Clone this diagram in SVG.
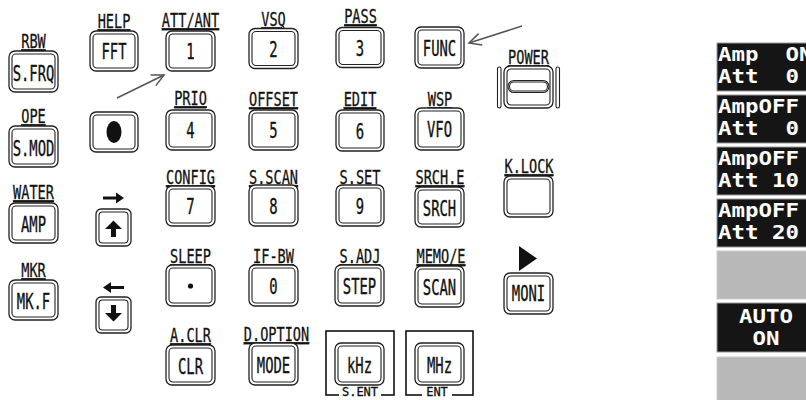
<svg xmlns="http://www.w3.org/2000/svg" width="806" height="400" viewBox="0 0 806 400">
<style>
.bo{fill:#fff;stroke:#222;stroke-width:1.3}
.bi{fill:none;stroke:#222;stroke-width:1.1}
.k{font-family:"DejaVu Sans Mono",monospace;font-size:21px;text-anchor:middle;fill:#111;stroke:#111;stroke-width:0.35}
.l{font-family:"DejaVu Sans Mono",monospace;font-size:20px;text-anchor:middle;fill:#111;stroke:#111;stroke-width:0.3;text-decoration:underline}
.e{font-family:"DejaVu Sans Mono",monospace;font-size:12px;text-anchor:middle;fill:#111;stroke:#111;stroke-width:0.3}
.fr{fill:none;stroke:#111;stroke-width:1.6}
.sym{fill:#111}
.conn{stroke:#555;stroke-width:1.5;fill:none}
.pd{fill:#151515;stroke:#999;stroke-width:1}
.pg{fill:#b8b8b8;stroke:#ccc;stroke-width:1}
.pt{font-family:"DejaVu Sans Mono",monospace;font-size:19px;font-weight:bold;fill:#fff}
.pc{text-anchor:middle}
</style>
<defs>
<marker id="ah" markerUnits="userSpaceOnUse" markerWidth="16" markerHeight="16" refX="13" refY="8" orient="auto" viewBox="0 0 16 16">
<path d="M1,2 L13,8 L1,14" fill="none" stroke="#555" stroke-width="1.5"/>
</marker>
</defs>
<rect width="806" height="400" fill="#fff"/>

<!-- Column A -->
<g id="n-sfrq"><text class="l" transform="translate(33.5,48) scale(0.68,1)">RBW</text>
<rect class="bo" x="9" y="51" width="49" height="41" rx="6"/><rect class="bi" x="12" y="54" width="43" height="35" rx="4"/>
<text class="k" transform="translate(33.5,81) scale(0.66,1)">S.FRQ</text></g>
<g id="n-smod"><text class="l" transform="translate(33.5,123) scale(0.68,1)">OPE</text>
<rect class="bo" x="9" y="126" width="49" height="41" rx="6"/><rect class="bi" x="12" y="129" width="43" height="35" rx="4"/>
<text class="k" transform="translate(33.5,156) scale(0.66,1)">S.MOD</text></g>
<g id="n-amp"><text class="l" transform="translate(33.5,199) scale(0.68,1)">WATER</text>
<rect class="bo" x="9" y="203" width="49" height="40" rx="6"/><rect class="bi" x="12" y="206" width="43" height="34" rx="4"/>
<text class="k" transform="translate(33.5,232) scale(0.66,1)">AMP</text></g>
<g id="n-mkf"><text class="l" transform="translate(33.5,277) scale(0.68,1)">MKR</text>
<rect class="bo" x="9" y="280" width="49" height="40" rx="6"/><rect class="bi" x="12" y="283" width="43" height="34" rx="4"/>
<text class="k" transform="translate(33.5,309) scale(0.66,1)">MK.F</text></g>

<!-- Column B -->
<g id="n-fft"><text class="l" transform="translate(114,28) scale(0.68,1)">HELP</text>
<rect class="bo" x="90" y="31" width="48" height="40" rx="6"/><rect class="bi" x="93" y="34" width="42" height="34" rx="4"/>
<text class="k" transform="translate(114,59) scale(0.66,1)">FFT</text></g>
<g id="n-dot"><rect class="bo" x="90" y="112" width="48" height="40" rx="6"/><rect class="bi" x="93" y="115" width="42" height="34" rx="4"/>
<ellipse class="sym" cx="114" cy="132" rx="7.5" ry="11"/></g>
<g id="n-up"><polygon class="sym" points="103,196.5 116,196.5 116,192.5 124,198 116,203.5 116,199.5 103,199.5"/>
<rect class="bo" x="96" y="209" width="35" height="37" rx="5"/><rect class="bi" x="99" y="212" width="29" height="31" rx="3.5"/>
<polygon class="sym" points="105,229 113.5,220.5 122,229 116,229 116,237 111,237 111,229"/></g>
<g id="n-down"><polygon class="sym" points="124,286 111,286 111,282 103,287.5 111,293 111,289 124,289"/>
<rect class="bo" x="96" y="297" width="35" height="36" rx="5"/><rect class="bi" x="99" y="300" width="29" height="30" rx="3.5"/>
<polygon class="sym" points="111,305 116,305 116,313 122,313 113.5,321.5 105,313 111,313"/></g>

<!-- Column C -->
<g id="n-1"><text class="l" transform="translate(190.5,27) scale(0.68,1)">ATT/ANT</text>
<rect class="bo" x="166" y="31" width="49" height="40" rx="6"/><rect class="bi" x="169" y="34" width="43" height="34" rx="4"/>
<text class="k" transform="translate(190.5,59) scale(0.66,1)">1</text></g>
<g id="n-4"><text class="l" transform="translate(190.5,105) scale(0.68,1)">PRIO</text>
<rect class="bo" x="166" y="110" width="49" height="40" rx="6"/><rect class="bi" x="169" y="113" width="43" height="34" rx="4"/>
<text class="k" transform="translate(190.5,138) scale(0.66,1)">4</text></g>
<g id="n-7"><text class="l" transform="translate(190.5,184) scale(0.68,1)">CONFIG</text>
<rect class="bo" x="166" y="186" width="49" height="40" rx="6"/><rect class="bi" x="169" y="189" width="43" height="34" rx="4"/>
<text class="k" transform="translate(190.5,214) scale(0.66,1)">7</text></g>
<g id="n-point"><text class="l" transform="translate(190.5,263) scale(0.68,1)">SLEEP</text>
<rect class="bo" x="166" y="265" width="49" height="41" rx="6"/><rect class="bi" x="169" y="268" width="43" height="35" rx="4"/>
<circle class="sym" cx="190.5" cy="286" r="2.6"/></g>
<g id="n-clr"><text class="l" transform="translate(190.5,342) scale(0.68,1)">A.CLR</text>
<rect class="bo" x="166" y="345" width="49" height="40" rx="6"/><rect class="bi" x="169" y="348" width="43" height="34" rx="4"/>
<text class="k" transform="translate(190.5,374) scale(0.66,1)">CLR</text></g>

<!-- Column D -->
<g id="n-2"><text class="l" transform="translate(273.5,26) scale(0.68,1)">VSQ</text>
<rect class="bo" x="249" y="28.5" width="49" height="40" rx="6"/><rect class="bi" x="252" y="31.5" width="43" height="34" rx="4"/>
<text class="k" transform="translate(273.5,57) scale(0.66,1)">2</text></g>
<g id="n-5"><text class="l" transform="translate(273.5,106) scale(0.68,1)">OFFSET</text>
<rect class="bo" x="249" y="110" width="49" height="40" rx="6"/><rect class="bi" x="252" y="113" width="43" height="34" rx="4"/>
<text class="k" transform="translate(273.5,138) scale(0.66,1)">5</text></g>
<g id="n-8"><text class="l" transform="translate(273.5,184) scale(0.68,1)">S.SCAN</text>
<rect class="bo" x="249" y="185" width="49" height="41" rx="6"/><rect class="bi" x="252" y="188" width="43" height="35" rx="4"/>
<text class="k" transform="translate(273.5,214) scale(0.66,1)">8</text></g>
<g id="n-0"><text class="l" transform="translate(273.5,263) scale(0.68,1)">IF-BW</text>
<rect class="bo" x="249" y="265" width="49" height="41" rx="6"/><rect class="bi" x="252" y="268" width="43" height="35" rx="4"/>
<text class="k" transform="translate(273.5,294) scale(0.66,1)">0</text></g>
<g id="n-mode"><text class="l" transform="translate(276.5,341) scale(0.68,1)">D.OPTION</text>
<rect class="bo" x="249" y="343" width="49" height="42" rx="6"/><rect class="bi" x="252" y="346" width="43" height="36" rx="4"/>
<text class="k" transform="translate(273.5,373) scale(0.66,1)">MODE</text></g>

<!-- Column E -->
<g id="n-3"><text class="l" transform="translate(360.5,23) scale(0.68,1)">PASS</text>
<rect class="bo" x="336" y="27.5" width="48" height="40" rx="6"/><rect class="bi" x="339" y="30.5" width="42" height="34" rx="4"/>
<text class="k" transform="translate(360,56) scale(0.66,1)">3</text></g>
<g id="n-6"><text class="l" transform="translate(360,106) scale(0.68,1)">EDIT</text>
<rect class="bo" x="336" y="110" width="48" height="41" rx="6"/><rect class="bi" x="339" y="113" width="42" height="35" rx="4"/>
<text class="k" transform="translate(360,139) scale(0.66,1)">6</text></g>
<g id="n-9"><text class="l" transform="translate(360,184) scale(0.68,1)">S.SET</text>
<rect class="bo" x="336" y="185" width="48" height="41" rx="6"/><rect class="bi" x="339" y="188" width="42" height="35" rx="4"/>
<text class="k" transform="translate(360,214) scale(0.66,1)">9</text></g>
<g id="n-step"><text class="l" transform="translate(360,263) scale(0.68,1)">S.ADJ</text>
<rect class="bo" x="335" y="265" width="49" height="41" rx="6"/><rect class="bi" x="338" y="268" width="43" height="35" rx="4"/>
<text class="k" transform="translate(359.5,294) scale(0.66,1)">STEP</text></g>
<g id="n-khz"><rect class="fr" x="326" y="331" width="68" height="64"/>
<rect x="339" y="388" width="42" height="12" fill="#fff"/>
<text class="e" x="360" y="396">S.ENT</text>
<rect class="bo" x="335" y="343" width="49" height="42" rx="6"/><rect class="bi" x="338" y="346" width="43" height="36" rx="4"/>
<text class="k" transform="translate(359.5,373) scale(0.66,1)">kHz</text></g>

<!-- Column F -->
<g id="n-func"><rect class="bo" x="415" y="27" width="49" height="41" rx="6"/><rect class="bi" x="418" y="30" width="43" height="35" rx="4"/>
<text class="k" transform="translate(439.5,56) scale(0.66,1)">FUNC</text></g>
<g id="n-vfo"><text class="l" transform="translate(440,106) scale(0.68,1)">WSP</text>
<rect class="bo" x="415" y="108" width="49" height="42" rx="6"/><rect class="bi" x="418" y="111" width="43" height="36" rx="4"/>
<text class="k" transform="translate(439.5,137) scale(0.66,1)">VFO</text></g>
<g id="n-srch"><text class="l" transform="translate(440,184) scale(0.68,1)">SRCH.E</text>
<rect class="bo" x="415" y="187" width="49" height="40" rx="6"/><rect class="bi" x="418" y="190" width="43" height="34" rx="4"/>
<text class="k" transform="translate(439.5,216) scale(0.66,1)">SRCH</text></g>
<g id="n-scan"><text class="l" transform="translate(441,263) scale(0.68,1)">MEMO/E</text>
<rect class="bo" x="415" y="266" width="49" height="41" rx="6"/><rect class="bi" x="418" y="269" width="43" height="35" rx="4"/>
<text class="k" transform="translate(439.5,295) scale(0.66,1)">SCAN</text></g>
<g id="n-mhz"><rect class="fr" x="406" y="331" width="67" height="64"/>
<rect x="422" y="388" width="30" height="12" fill="#fff"/>
<text class="e" x="437" y="396">ENT</text>
<rect class="bo" x="415" y="343" width="49" height="42" rx="6"/><rect class="bi" x="418" y="346" width="43" height="36" rx="4"/>
<text class="k" transform="translate(439.5,373) scale(0.66,1)">MHz</text></g>

<!-- Column G -->
<g id="n-power"><text class="l" transform="translate(528.5,64) scale(0.68,1)">POWER</text>
<rect class="bi" x="497.5" y="67" width="3.5" height="41" rx="1.7"/>
<rect class="bi" x="556" y="67" width="3.5" height="41" rx="1.7"/>
<rect class="bo" x="504" y="66" width="49" height="42" rx="6"/><rect class="bi" x="507" y="69" width="43" height="36" rx="4"/>
<rect class="bi" x="508" y="80.5" width="41" height="12" rx="6"/>
<rect class="bi" x="509.5" y="82" width="38" height="9" rx="4.5"/></g>
<g id="n-klock"><text class="l" transform="translate(529,173) scale(0.68,1)">K.LOCK</text>
<rect class="bo" x="504" y="176" width="49" height="41" rx="6"/><rect class="bi" x="507" y="179" width="43" height="35" rx="4"/></g>
<g id="n-moni"><polygon class="sym" points="519,246 537,258.5 519,271"/>
<rect class="bo" x="504" y="273" width="49" height="41" rx="6"/><rect class="bi" x="507" y="276" width="43" height="35" rx="4"/>
<text class="k" transform="translate(528.5,301) scale(0.66,1)">MONI</text></g>

<!-- Connectors -->
<g id="connectors">
<line class="conn" x1="117" y1="98" x2="164" y2="75" marker-end="url(#ah)"/>
<line class="conn" x1="522" y1="26" x2="469" y2="43" marker-end="url(#ah)"/>
</g>

<!-- Right panel -->
<g id="panel">
<g id="p1"><rect class="pd" x="717" y="43" width="100" height="48"/>
<text class="pt" xml:space="preserve" transform="translate(718,61) scale(1.18,1)">Amp  ON</text>
<text class="pt" xml:space="preserve" transform="translate(718,83) scale(1.18,1)">Att  0</text></g>
<g id="p2"><rect class="pd" x="717" y="95" width="100" height="48"/>
<text class="pt" transform="translate(718,113) scale(1.18,1)">AmpOFF</text>
<text class="pt" xml:space="preserve" transform="translate(718,135) scale(1.18,1)">Att  0</text></g>
<g id="p3"><rect class="pd" x="717" y="147" width="100" height="48"/>
<text class="pt" transform="translate(718,165) scale(1.18,1)">AmpOFF</text>
<text class="pt" xml:space="preserve" transform="translate(718,187) scale(1.18,1)">Att 10</text></g>
<g id="p4"><rect class="pd" x="717" y="199" width="100" height="48"/>
<text class="pt" transform="translate(718,217) scale(1.18,1)">AmpOFF</text>
<text class="pt" xml:space="preserve" transform="translate(718,239) scale(1.18,1)">Att 20</text></g>
<g id="p5"><rect class="pg" x="717" y="251" width="100" height="48"/></g>
<g id="p6"><rect class="pd" x="717" y="303" width="100" height="49"/>
<text class="pt pc" transform="translate(766,323) scale(1.18,1)">AUTO</text>
<text class="pt pc" transform="translate(766,345) scale(1.18,1)">ON</text></g>
<g id="p7"><rect class="pg" x="717" y="357" width="100" height="48"/></g>
</g>
</svg>
